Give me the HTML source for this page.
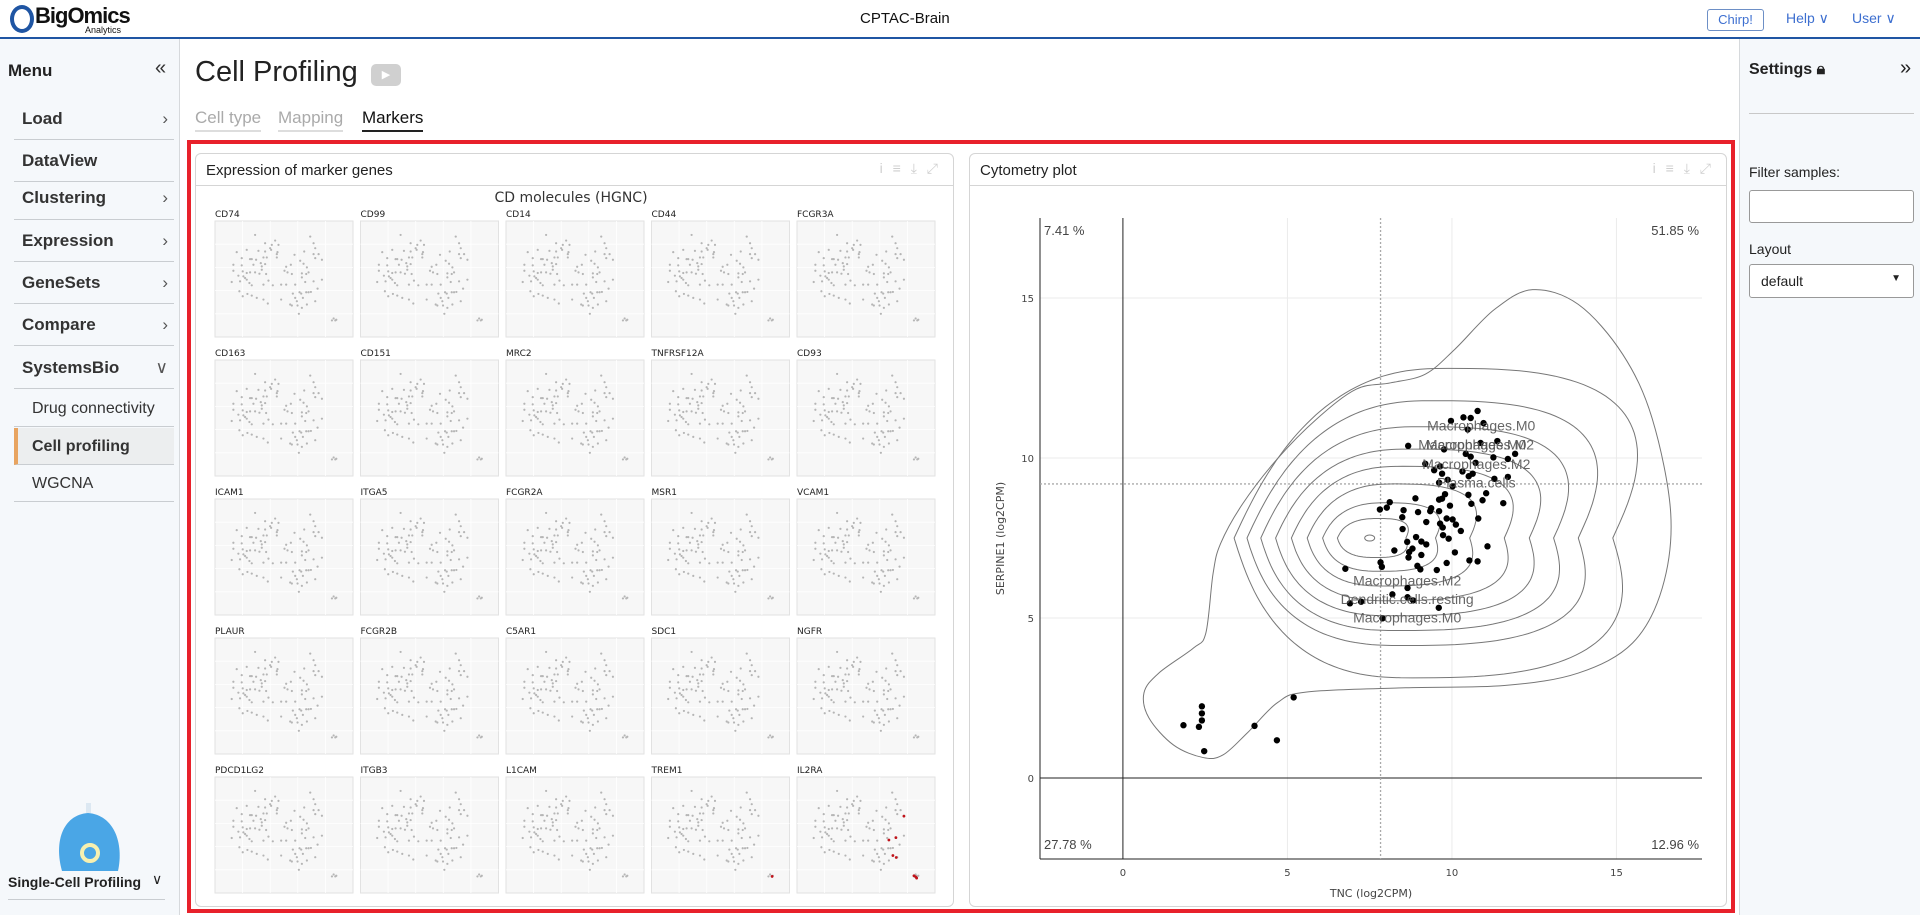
<!DOCTYPE html>
<html><head><meta charset="utf-8">
<style>
*{box-sizing:border-box;margin:0;padding:0}
html,body{width:1920px;height:915px;overflow:hidden}
body{font-family:"Liberation Sans",sans-serif;background:#fff;position:relative;color:#222}
.abs{position:absolute}
#header{left:0;top:0;width:1920px;height:39px;border-bottom:2px solid #1f55a3;background:#fff}
#left{left:0;top:39px;width:180px;height:876px;background:#f5f8fb;border-right:1px solid #d6d9dc}
#right{left:1739px;top:39px;width:181px;height:876px;background:#f5f8fb;border-left:1px solid #d6d9dc}
.mi{position:absolute;left:14px;width:160px;height:42px;border-bottom:1px solid #c9cdd1;font-size:17px;font-weight:bold;color:#333;padding-left:8px;line-height:42px}
.mi .ch{position:absolute;right:6px;top:0;font-weight:normal;color:#555}
.sub{font-weight:normal;font-size:16px;padding-left:18px;height:37px;line-height:37px}
.card{border:1px solid #d5d5d5;border-radius:6px;background:#fff}
.ch-title{position:absolute;left:10px;top:8px;font-size:15px;color:#222}
.icons{position:absolute;right:12px;top:6px;color:#cfcfcf;font-size:14px;letter-spacing:3px}
</style></head><body>
<div id="header" class="abs">
  <div class="abs" style="left:10px;top:5px;width:24px;height:28px;border:4px solid #1f55a3;border-radius:50%"></div>
  <div class="abs" style="left:35px;top:3px;font-size:22px;font-weight:bold;letter-spacing:-1px;color:#111">BigOmics</div>
  <div class="abs" style="left:85px;top:25px;font-size:9px;color:#111">Analytics</div>
  <div class="abs" style="left:860px;top:10px;font-size:15px;color:#111">CPTAC-Brain</div>
  <div class="abs" style="left:1707px;top:9px;width:57px;height:22px;border:1px solid #6d8fc6;border-radius:3px;font-size:13px;color:#3d6fd0;text-align:center;line-height:20px">Chirp!</div>
  <div class="abs" style="left:1786px;top:10px;font-size:14px;color:#3d6fd0">Help &#x2228;</div>
  <div class="abs" style="left:1852px;top:10px;font-size:14px;color:#3d6fd0">User &#x2228;</div>
</div>

<div id="left" class="abs">
  <div class="abs" style="left:8px;top:22px;font-size:17px;font-weight:bold;color:#222">Menu</div>
  <div class="abs" style="left:155px;top:18px;font-size:20px;color:#333">&#xab;</div>
  <div class="mi" style="top:59px">Load<span class="ch">&#x203A;</span></div>
  <div class="mi" style="top:101px">DataView</div>
  <div class="mi" style="top:138px;height:43px">Clustering<span class="ch">&#x203A;</span></div>
  <div class="mi" style="top:181px">Expression<span class="ch">&#x203A;</span></div>
  <div class="mi" style="top:223px">GeneSets<span class="ch">&#x203A;</span></div>
  <div class="mi" style="top:265px">Compare<span class="ch">&#x203A;</span></div>
  <div class="mi" style="top:308px">SystemsBio<span class="ch">&#x2228;</span></div>
  <div class="mi sub" style="top:351px">Drug connectivity</div>
  <div class="mi sub" style="top:389px;background:#eceeef;border-left:4px solid #e8a460;font-weight:bold;padding-left:14px">Cell profiling</div>
  <div class="mi sub" style="top:426px">WGCNA</div>
  <svg class="abs" style="left:50px;top:764px" width="80" height="72">
    <path d="M12 68 C4 40 12 12 38 10 C64 12 74 40 68 68 Z" fill="#4aa6e6"/>
    <circle cx="40" cy="50" r="8" fill="none" stroke="#f7f0b0" stroke-width="4"/>
    <rect x="36" y="0" width="5" height="10" fill="#dce8f2"/>
  </svg>
  <div class="abs" style="left:8px;top:835px;font-size:14px;font-weight:bold;color:#222">Single-Cell Profiling</div>
  <div class="abs" style="left:152px;top:832px;font-size:14px;color:#222">&#x2228;</div>
  <div class="abs" style="left:8px;top:860px;width:157px;border-top:1px solid #c9cdd1"></div>
</div>

<div class="abs" style="left:195px;top:56px;font-size:29px;color:#222">Cell Profiling</div>
<div class="abs" style="left:371px;top:64px;width:30px;height:22px;background:#d0d0d0;border-radius:5px;color:#fff;text-align:center;font-size:11px;line-height:22px">&#x25B6;</div>
<div class="abs" style="left:195px;top:108px;font-size:17px;color:#aaa;border-bottom:2px solid #ddd;padding-bottom:2px">Cell type</div>
<div class="abs" style="left:278px;top:108px;font-size:17px;color:#aaa;border-bottom:2px solid #ddd;padding-bottom:2px">Mapping</div>
<div class="abs" style="left:362px;top:108px;font-size:17px;color:#111;border-bottom:2px solid #222;padding-bottom:2px">Markers</div>

<div class="abs" style="left:187px;top:140px;width:1548px;height:773px;border:4px solid #e8212b"></div>

<div class="abs card" style="left:195px;top:153px;width:759px;height:754px">
  <div class="abs" style="left:0;top:31px;width:757px;border-top:1px solid #d5d5d5"></div>
  <div class="ch-title">Expression of marker genes</div>
  <div class="icons">i &#x2261; &#x2913; &#x2922;</div>
</div>
<div class="abs card" style="left:969px;top:153px;width:758px;height:754px">
  <div class="abs" style="left:0;top:31px;width:756px;border-top:1px solid #d5d5d5"></div>
  <div class="ch-title">Cytometry plot</div>
  <div class="icons">i &#x2261; &#x2913; &#x2922;</div>
</div>

<div id="right" class="abs">
  <div class="abs" style="left:9px;top:22px;font-size:16px;font-weight:bold;color:#222">Settings &#x1F512;&#xFE0E;</div>
  <div class="abs" style="left:160px;top:18px;font-size:20px;color:#222">&#xbb;</div>
  <div class="abs" style="left:9px;top:74px;width:165px;border-top:1px solid #c8c8c8"></div>
  <div class="abs" style="left:9px;top:125px;font-size:14px;color:#222">Filter samples:</div>
  <div class="abs" style="left:9px;top:151px;width:165px;height:33px;border:1px solid #999;border-radius:3px;background:#fff"></div>
  <div class="abs" style="left:9px;top:202px;font-size:14px;color:#222">Layout</div>
  <div class="abs" style="left:9px;top:225px;width:165px;height:34px;border:1px solid #999;border-radius:3px;background:#fff;font-size:14px;padding:8px 11px;color:#222">default<span style="position:absolute;right:12px;top:8px;font-size:10px">&#x25BC;</span></div>
</div>

<svg id="smallmult" class="abs" style="left:195px;top:153px" width="759" height="754"></svg>
<svg id="cyto" class="abs" style="left:969px;top:153px" width="758" height="754"></svg>

<script>
const NS='http://www.w3.org/2000/svg';
function mk(parent,tag,attrs){const e=document.createElementNS(NS,tag);for(const k in attrs)e.setAttribute(k,attrs[k]);parent.appendChild(e);return e;}

// ---------- small multiples data ----------
const genes=["CD74","CD99","CD14","CD44","FCGR3A","CD163","CD151","MRC2","TNFRSF12A","CD93","ICAM1","ITGA5","FCGR2A","MSR1","VCAM1","PLAUR","FCGR2B","C5AR1","SDC1","NGFR","PDCD1LG2","ITGB3","L1CAM","TREM1","IL2RA"];
const tsneX=[165,330,225,195,215,235,340,110,140,175,195,210,213,232,230,345,340,355,312,283,125,150,155,168,190,200,230,345,365,300,100,125,160,182,185,195,258,272,310,320,100,115,128,140,150,165,178,185,198,253,262,275,305,318,325,95,120,130,135,140,148,155,190,205,218,243,258,285,305,315,340,365,118,128,142,155,170,190,203,243,278,285,290,298,303,308,318,325,332,345,352,270,275,292,296,305,320,400,395,405,408];
const tsneY=[120,125,137,145,150,150,145,172,165,168,170,160,165,172,178,160,178,178,170,180,190,193,193,195,188,188,188,190,195,198,210,212,210,205,215,208,216,210,207,218,228,243,230,235,233,233,237,225,238,228,233,238,236,238,233,262,260,245,250,255,265,272,270,258,272,270,270,270,248,262,260,255,290,305,298,303,310,315,327,315,297,310,320,293,297,310,293,293,292,320,282,330,333,333,358,340,330,372,378,378,376];
const tsneXDomain=[45,458], tsneYDomain=[78,428];
const redGene=["TREM1","IL2RA","IL2RA","IL2RA","IL2RA","IL2RA","IL2RA","IL2RA","IL2RA"];
const redX=[406,365,320,341,332,342,395,403,400];
const redY=[378,196,268,261,315,321,376,383,379];

const sm=document.getElementById('smallmult');
const t0=mk(sm,'text',{x:376,y:49,'text-anchor':'middle','font-size':14,fill:'#333','font-family':'DejaVu Sans, sans-serif'});
t0.textContent='CD molecules (HGNC)';


const colX0=20,colPitch=145.5,rowY0=68,rowPitch=139,pw=138,ph=116;
genes.forEach((g,i)=>{
  const c=i%5,r=Math.floor(i/5);
  const px=colX0+c*colPitch, py=rowY0+r*rowPitch;
  const grp=mk(sm,'g',{});
  
  
  const lb=mk(grp,'text',{x:px,y:py-4,'font-size':9,fill:'#222','font-family':'DejaVu Sans, sans-serif'});
  lb.textContent=g;
  mk(grp,'rect',{x:px,y:py,width:pw,height:ph,fill:'#f7f7f7',stroke:'#e2e2e2'});
  for(let k=1;k<5;k++){mk(grp,'line',{x1:px+k*pw/5,x2:px+k*pw/5,y1:py,y2:py+ph,stroke:'#fff','stroke-width':0.8});
    mk(grp,'line',{x1:px,x2:px+pw,y1:py+k*ph/5,y2:py+k*ph/5,stroke:'#fff','stroke-width':0.8});}
  const sx=v=>px+(v-tsneXDomain[0])/(tsneXDomain[1]-tsneXDomain[0])*pw;
  const sy=v=>py+(v-tsneYDomain[0])/(tsneYDomain[1]-tsneYDomain[0])*ph;
  tsneX.forEach((v,j)=>{mk(grp,'circle',{cx:sx(v),cy:sy(tsneY[j]),r:1.1,fill:'#b5b5b5'});});
  redGene.forEach((rg,j)=>{if(rg===g){mk(grp,'circle',{cx:sx(redX[j]),cy:sy(redY[j]),r:1.4,fill:'#c0141b'});}});
});

// ---------- cytometry data ----------
const ptX=[1.84,2.31,2.40,2.40,2.40,2.47,4.00,4.68,5.19,
10.78,10.35,10.57,9.97,10.96,10.48,8.67,9.76,10.87,11.38,10.42,10.57,11.26,11.70,11.92,10.72,9.19,9.64,9.46,10.32,10.51,10.63,11.29,11.70,9.70,9.87,10.02,9.61,8.89,9.61,9.70,9.79,10.50,11.04,10.93,11.56,10.59,7.81,8.11,8.02,8.53,8.97,9.34,9.37,9.61,9.94,8.49,9.84,10.02,10.80,9.22,9.64,10.12,10.27,9.72,8.50,9.73,9.90,8.91,8.64,9.07,9.22,8.25,8.80,8.70,11.08,10.09,9.07,8.68,7.83,7.87,8.95,9.04,9.54,9.84,10.53,10.78,6.76,8.65,8.19,8.82,8.65,6.90,7.24,9.60,7.89];
const ptY=[1.65,1.60,2.24,2.02,1.80,0.84,1.63,1.18,2.52,
11.47,11.27,11.25,11.16,11.09,10.89,10.38,10.27,10.47,10.53,10.13,10.04,10.02,9.97,10.13,9.85,9.82,9.74,9.62,9.58,9.43,9.51,9.35,9.41,9.51,9.32,9.12,9.23,8.74,8.70,8.73,8.87,8.85,8.90,8.68,8.59,8.57,8.39,8.62,8.45,8.37,8.31,8.34,8.43,8.34,8.51,8.15,8.11,8.08,8.11,8.00,7.95,7.92,7.72,7.83,7.78,7.59,7.48,7.53,7.38,7.39,7.30,7.11,7.17,7.06,7.24,7.05,6.97,6.89,6.74,6.60,6.63,6.52,6.50,6.72,6.80,6.77,6.54,5.94,5.74,5.55,5.65,5.46,5.51,5.32,4.99];
const labelText=["Macrophages.M0","Macrophages.M0","Macrophages.M2","Macrophages.M2","Plasma.cells","Macrophages.M2","Dendritic.cells.resting","Macrophages.M0"];
const labelX=[10.89,10.62,10.85,10.74,10.74,8.64,8.64,8.64];
const labelY=[11.02,10.42,10.42,9.82,9.23,6.18,5.60,5.01];
const xTicks=[0,5,10,15], yTicks=[0,5,10,15];
const quadPct=["7.41 %","51.85 %","27.78 %","12.96 %"];
const cutX=7.83, cutY=9.19;
const ringLeft=[6.52,6.07,5.60,5.12,4.64,4.19,3.77,3.38];
const ringRight=[8.60,9.50,10.54,11.59,12.35,13.09,13.84,14.89];
const ringTop=[8.11,8.60,9.19,9.74,10.28,10.98,11.79,12.80];
const ringBottom=[6.89,6.46,6.00,5.54,5.07,4.61,4.14,3.13];
const ringCenter=[7.5,7.5];
const outerX=[12.45,13.84,15.19,16.09,16.65,16.39,15.49,13.84,11.59,8.59,5.59,4.69,3.79,3.04,2.44,1.54,0.79,0.64,1.09,2.14,2.52,2.74,2.97,3.64,4.69,5.89,7.09,8.14,9.19,10.09,11.29];
const outerY=[15.26,14.80,13.24,11.22,8.26,5.93,4.22,3.28,2.89,2.82,2.69,2.35,1.42,0.72,0.64,1.03,1.88,2.66,3.28,4.06,4.53,6.39,7.33,8.57,9.97,11.22,12.15,12.35,12.62,13.40,14.64];

const cy=document.getElementById('cyto');
const L=71,R=733,T=65,B=706;
const xDom=[-2.52,17.6], yDom=[-2.53,17.5];
const X=v=>L+(v-xDom[0])/(xDom[1]-xDom[0])*(R-L);
const Y=v=>B-(v-yDom[0])/(yDom[1]-yDom[0])*(B-T);
const F='DejaVu Sans, sans-serif';
xTicks.forEach(t=>{ if(t!==0) mk(cy,'line',{x1:X(t),x2:X(t),y1:T,y2:B,stroke:'#ebebeb'});});
yTicks.forEach(t=>{ if(t!==0) mk(cy,'line',{x1:L,x2:R,y1:Y(t),y2:Y(t),stroke:'#ebebeb'});});
mk(cy,'line',{x1:X(0),x2:X(0),y1:T,y2:B,stroke:'#222'});
mk(cy,'line',{x1:L,x2:R,y1:Y(0),y2:Y(0),stroke:'#222'});
mk(cy,'line',{x1:L,x2:L,y1:T,y2:B,stroke:'#222'});
mk(cy,'line',{x1:L,x2:R,y1:B,y2:B,stroke:'#222'});
xTicks.forEach(t=>{const e=mk(cy,'text',{x:X(t),y:B+17,'text-anchor':'middle','font-size':10,fill:'#444','font-family':F});e.textContent=t;
  
  });
yTicks.forEach(t=>{const e=mk(cy,'text',{x:L-6,y:Y(t)+4,'text-anchor':'end','font-size':10,fill:'#444','font-family':F});e.textContent=t;
  
  });
const xt=mk(cy,'text',{x:(L+R)/2,y:B+38,'text-anchor':'middle','font-size':11,fill:'#444','font-family':F});xt.textContent='TNC (log2CPM)';


const yt=mk(cy,'text',{x:0,y:0,'text-anchor':'middle','font-size':11,fill:'#444','font-family':F,transform:`translate(35,${(T+B)/2}) rotate(-90)`});yt.textContent='SERPINE1 (log2CPM)';


mk(cy,'line',{x1:X(cutX),x2:X(cutX),y1:T,y2:B,stroke:'#aaa','stroke-dasharray':'2,2','stroke-width':1.3});
mk(cy,'line',{x1:L,x2:R,y1:Y(cutY),y2:Y(cutY),stroke:'#aaa','stroke-dasharray':'2,2','stroke-width':1.3});
[[L+4,T+17,'start'],[R-3,T+17,'end'],[L+4,B-10,'start'],[R-3,B-10,'end']].forEach((p,i)=>{
  const e=mk(cy,'text',{x:p[0],y:p[1],'text-anchor':p[2],'font-size':13,fill:'#444','font-family':'Liberation Sans, sans-serif'});e.textContent=quadPct[i];
  
  });
function ringPath(l,r,t,b){
  const n=2.7,pts=[];
  for(let i=0;i<=160;i++){const a=i/160*2*Math.PI,c=Math.cos(a),s=Math.sin(a);
    const dx=(c>=0?r-ringCenter[0]:ringCenter[0]-l)*Math.sign(c)*Math.pow(Math.abs(c),2/n);
    const dy=(s>=0?t-ringCenter[1]:ringCenter[1]-b)*Math.sign(s)*Math.pow(Math.abs(s),2/n);
    const k=dy>0?0.45:-0.3;
    pts.push([X(ringCenter[0]+dx+k*dy),Y(ringCenter[1]+dy)]);}
  return 'M'+pts.map(p=>p[0].toFixed(1)+','+p[1].toFixed(1)).join('L')+'Z';
}
ringLeft.forEach((l,i)=>{const p=mk(cy,'path',{d:ringPath(l,ringRight[i],ringTop[i],ringBottom[i]),fill:'none',stroke:'#777','stroke-width':1});
  
  });
mk(cy,'ellipse',{cx:X(7.5),cy:Y(7.5),rx:5,ry:3,fill:'none',stroke:'#777'});
(function(){const P=outerX.map((v,i)=>[X(v),Y(outerY[i])]);const n=P.length;let d='M'+P[0][0]+','+P[0][1];
  for(let i=0;i<n;i++){const p0=P[(i-1+n)%n],p1=P[i],p2=P[(i+1)%n],p3=P[(i+2)%n];
    d+=`C${p1[0]+(p2[0]-p0[0])/6},${p1[1]+(p2[1]-p0[1])/6} ${p2[0]-(p3[0]-p1[0])/6},${p2[1]-(p3[1]-p1[1])/6} ${p2[0]},${p2[1]}`;}
  const p=mk(cy,'path',{d:d+'Z',fill:'none',stroke:'#777','stroke-width':1});
  
  })();
ptX.forEach((v,i)=>{const c=mk(cy,'circle',{cx:X(v),cy:Y(ptY[i]),r:3.2,fill:'#000'});
  
  });
labelText.forEach((s,i)=>{const e=mk(cy,'text',{x:X(labelX[i]),y:Y(labelY[i])+5,'text-anchor':'middle','font-size':14,fill:'#555','fill-opacity':0.9,'font-family':'Liberation Sans, sans-serif'});e.textContent=s;
  
  });
</script>
</body></html>
